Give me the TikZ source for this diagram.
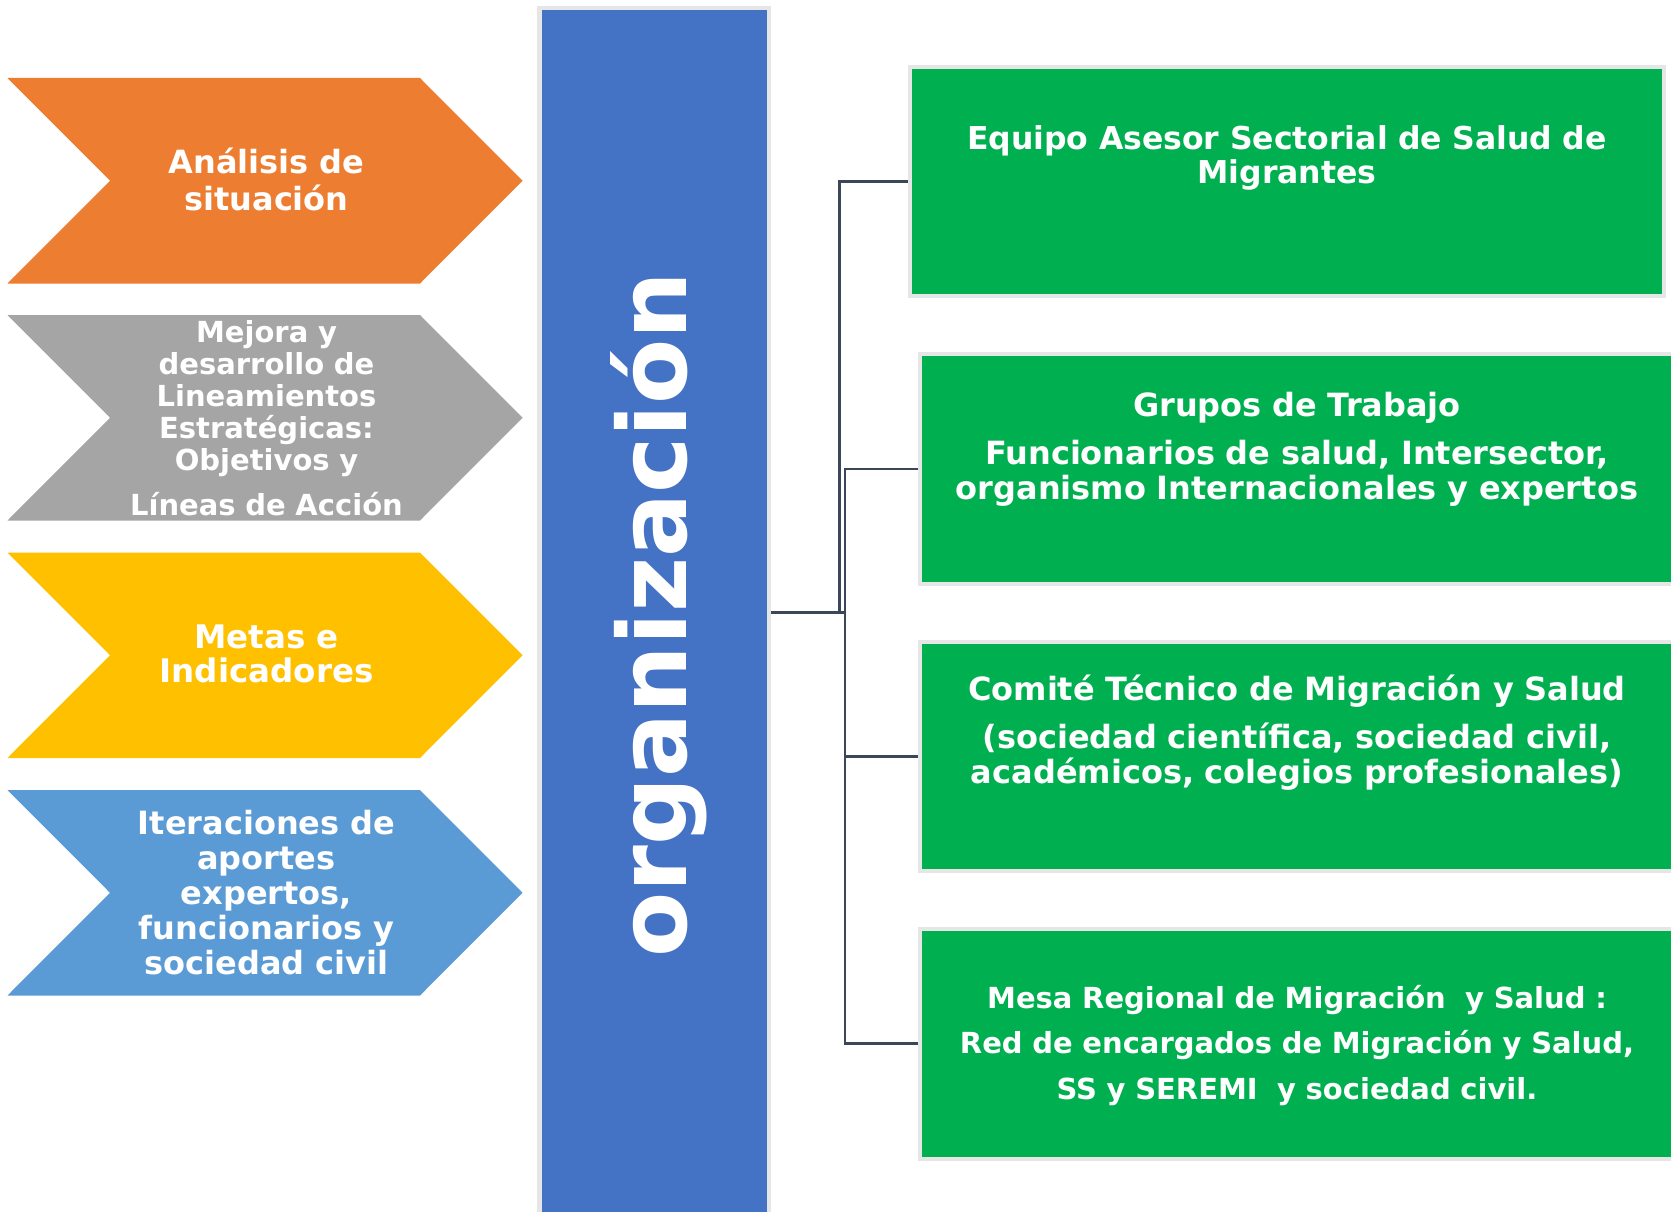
\documentclass[tikz,border=0pt]{standalone}
\usepackage{fontspec}
\setmainfont{DejaVu Sans}

\definecolor{chevorange}{HTML}{ED7D31}
\definecolor{chevgray}{HTML}{A5A5A5}
\definecolor{chevyellow}{HTML}{FFC000}
\definecolor{chevblue}{HTML}{5B9BD5}
\definecolor{barblue}{HTML}{4472C4}
\definecolor{boxgreen}{HTML}{00B050}
\definecolor{edgegray}{HTML}{E6E6E6}
\definecolor{linkgray}{HTML}{3B4658}

\tikzset{
  chevtext/.style={text=white, align=center, text width=300pt, inner sep=0pt, anchor=base,
    font=\bfseries\fontsize{32}{35}\selectfont},
  boxtext/.style={text=white, align=center, text width=740pt, inner sep=0pt, anchor=base,
    font=\bfseries\fontsize{32}{35}\selectfont},
  greenbox/.style={fill=boxgreen, draw=edgegray, line width=4pt, inner sep=0pt},
  link/.style={draw=linkgray, line width=2.5pt}
}

\begin{document}
\begin{tikzpicture}[x=1pt,y=-1pt]
  \useasboundingbox (0,0) rectangle (1671,1212);
  \fill[white] (0,0) rectangle (1671,1212);

  % chevrons
  \fill[chevorange] (7.5,78) -- (420,78) -- (522.5,180.75) -- (420,283.5) -- (7.5,283.5) -- (110,180.75) -- cycle;
  \fill[chevgray] (7.5,315) -- (420,315) -- (522.5,417.75) -- (420,520.5) -- (7.5,520.5) -- (110,417.75) -- cycle;
  \fill[chevyellow] (7.5,552.5) -- (420,552.5) -- (522.5,655.25) -- (420,758) -- (7.5,758) -- (110,655.25) -- cycle;
  \fill[chevblue] (7.5,790) -- (420,790) -- (522.5,892.75) -- (420,995.5) -- (7.5,995.5) -- (110,892.75) -- cycle;

  \node[chevtext, font=\bfseries\fontsize{32}{37}\selectfont] (analisis) at (266.5,174) {Análisis de\\situación};
  \node[chevtext, font=\bfseries\fontsize{29}{32}\selectfont] (mejora) at (266.5,342.7)
    {Mejora y\\desarrollo de\\Lineamientos\\Estratégicas:\\Objetivos y\\[13pt]Líneas de Acción};
  \node[chevtext, font=\bfseries\fontsize{32.5}{34}\selectfont] (metas) at (266.5,648.5) {Metas e\\Indicadores};
  \node[chevtext] (iteraciones) at (266.5,834)
    {Iteraciones de\\aportes\\expertos,\\funcionarios y\\sociedad civil};

  % central bar
  \node[fill=barblue, draw=edgegray, line width=4.3pt, minimum width=229.8pt, minimum height=1209pt] (org) at (654.4,612.3) {};
  \node[rotate=90, anchor=base, text=white, inner sep=0pt, font=\bfseries\fontsize{95}{100}\selectfont] (orgtext) at (686.7,614.5) {organización};

  % green boxes
  \node[greenbox, minimum width=754pt, minimum height=229.3pt] (asesor) at (1287,181.7) {};
  \node[greenbox, minimum width=760pt, minimum height=229.7pt] (grupos) at (1300,468.9) {};
  \node[greenbox, minimum width=760pt, minimum height=229.3pt] (comite) at (1300,756.3) {};
  \node[greenbox, minimum width=760pt, minimum height=230pt] (mesa) at (1300,1043.7) {};

  \node[boxtext, font=\bfseries\fontsize{31.5}{34}\selectfont] (asesorlbl) at (1287,149.3)
    {Equipo Asesor Sectorial de Salud de\\Migrantes};
  \node[boxtext] (gruposlbl) at (1297,416)
    {Grupos de Trabajo\\[13pt]Funcionarios de salud, Intersector,\\organismo Internacionales y expertos};
  \node[boxtext] (comitelbl) at (1297,700)
    {Comité Técnico de Migración y Salud\\[13pt](sociedad científica, sociedad civil,\\académicos, colegios profesionales)};
  \node[boxtext, font=\bfseries\fontsize{29}{45.5}\selectfont] (mesalbl) at (1297,1008.3)
    {Mesa Regional de Migración~ y Salud :\\Red de encargados de Migración y Salud,\\SS y SEREMI~ y sociedad civil.};

  % connectors
  \coordinate (hubA) at (839.5,612.3);
  \coordinate (hubB) at (845,612.3);
  \draw[link] (org.east) -- (hubB);
  \draw[link] (asesor.west) -| (hubA);
  \draw[link] (grupos.west) -| (hubB) |- (mesa.west);
  \draw[link] (comite.west) -- (comite.west -| hubB);
\end{tikzpicture}
\end{document}
